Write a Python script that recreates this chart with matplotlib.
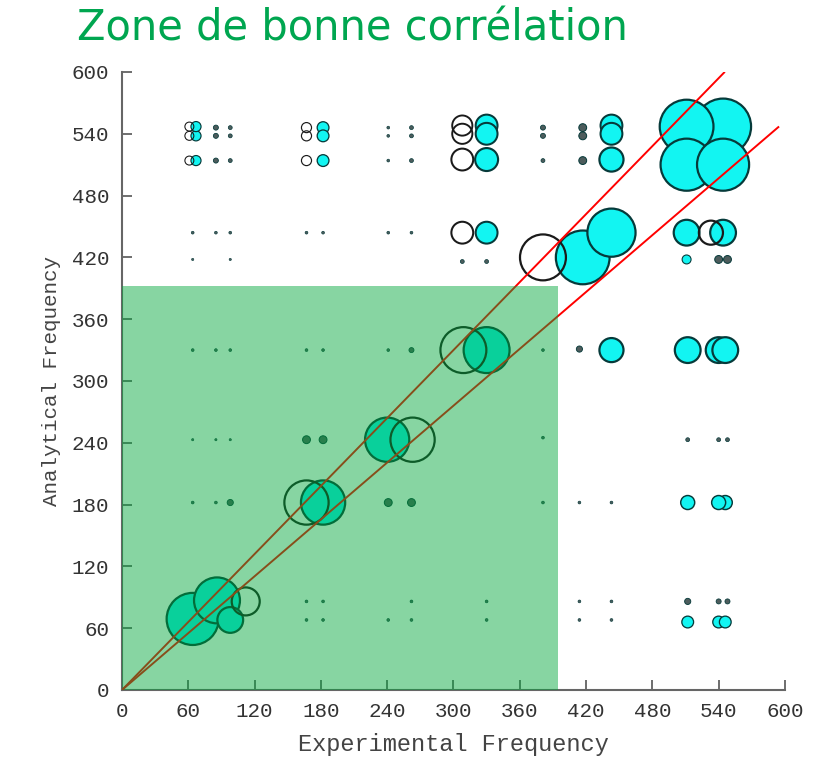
import matplotlib
matplotlib.use("Agg")
import matplotlib.pyplot as plt
from matplotlib.patches import Rectangle
import numpy as np

# Cross-correlation of experimental vs analytical modes (bubble diameter ~ MAC)
filled_exp = [67, 67, 67, 85, 85, 85, 98, 98, 98, 182, 182, 182, 241, 241, 241,
              262, 262, 262, 330, 330, 330, 381, 381, 381, 417, 417, 417,
              443, 443, 443, 511, 544, 511, 544,
              64, 85, 98, 167, 182, 241, 262, 330, 443, 511, 544,
              64, 98, 308, 330, 417, 511, 540, 548,
              64, 85, 98, 167, 182, 241, 262, 330, 381, 414, 443, 512, 540, 546,
              64, 85, 98, 167, 182, 240, 381, 512, 540, 548,
              64, 85, 98, 182, 241, 262, 381, 414, 443, 512, 540, 546,
              167, 182, 262, 330, 414, 443, 512, 540, 548, 86,
              167, 182, 241, 262, 330, 414, 443, 512, 540, 546, 64, 98]
filled_ana = [547, 538, 514, 546, 538, 514, 546, 538, 514, 546, 538, 514, 546, 538, 514,
              546, 538, 514, 548, 540, 515, 546, 538, 514, 546, 538, 514,
              548, 540, 515, 547, 547, 510, 510,
              444, 444, 444, 444, 444, 444, 444, 444, 444, 444, 444,
              418, 418, 416, 416, 420, 418, 418, 418,
              330, 330, 330, 330, 330, 330, 330, 330, 330, 331, 330, 330, 330, 330,
              243, 243, 243, 243, 243, 243, 245, 243, 243, 243,
              182, 182, 182, 182, 182, 182, 182, 182, 182, 182, 182, 182,
              86, 86, 86, 86, 86, 86, 86, 86, 86, 87,
              68, 68, 68, 68, 68, 68, 68, 66, 66, 66, 69, 68]
filled_mac = [.18, .18, .18, .09, .09, .09, .07, .07, .07, .21, .21, .21, .05, .05, .05,
              .07, .07, .07, .39, .39, .41, .09, .09, .07, .14, .14, .14,
              .39, .39, .43, .96, 1.0, .93, .93,
              .05, .05, .05, .05, .05, .05, .05, .39, .86, .46, .46,
              .04, .04, .07, .07, .96, .16, .14, .14,
              .05, .05, .05, .05, .05, .05, .09, .82, .05, .11, .43, .46, .46, .46,
              .04, .04, .04, .14, .14, .79, .05, .07, .07, .07,
              .05, .05, .11, .79, .14, .14, .05, .05, .05, .25, .25, .25,
              .05, .05, .05, .05, .05, .05, .11, .09, .09, .82,
              .05, .05, .05, .05, .05, .05, .05, .21, .21, .21, .93, .46]

hollow_exp = [61, 61, 61, 167, 167, 167, 308, 308, 308, 308, 533, 381, 309, 263, 167, 112]
hollow_ana = [547, 538, 514, 546, 538, 514, 548, 540, 515, 444, 444, 420, 330, 243, 182, 86]
hollow_mac = [.16, .16, .16, .18, .18, .18, .36, .36, .39, .39, .43, .82, .82, .79, .79, .50]

freq_ticks = [0, 60, 120, 180, 240, 300, 360, 420, 480, 540, 600]
upper_slope, upper_end = 1.10, 545
lower_slope, lower_end = 0.92, 594
zone_exp, zone_ana = 395, 392

MAX_RADIUS_PT = 28 * 0.72


def bubble_size(mac):
    d = 2 * MAX_RADIUS_PT * np.asarray(mac)
    return d ** 2


def edge_width(mac):
    return np.clip(0.3 + 3.0 * np.asarray(mac), 0.4, 1.6)


fig = plt.figure(figsize=(8.28, 7.61), dpi=100)
ax = fig.add_axes([0.1473, 0.0933, 0.8007, 0.8121])
ax.set_xlim(0, 600)
ax.set_ylim(0, 600)

order = np.argsort(filled_mac)[::-1]
fe = np.array(filled_exp)[order]
fa = np.array(filled_ana)[order]
fm = np.array(filled_mac)[order]
# very weak correlations render as small dark specks
faces = np.where(fm[:, None] >= 0.15,
                 np.array([[0.07, 0.96, 0.95, 1.0]]),
                 np.array([[0.30, 0.36, 0.36, 1.0]]))
ax.scatter(fe, fa, s=bubble_size(fm), facecolor=faces,
           edgecolor="#063A3A", linewidths=edge_width(fm), zorder=3)
ax.scatter(hollow_exp, hollow_ana, s=bubble_size(hollow_mac), facecolor="none",
           edgecolor="#1a1a1a", linewidths=edge_width(hollow_mac), zorder=4)

xu = np.array([0, upper_end])
xl = np.array([0, lower_end])
ax.plot(xu, upper_slope * xu, color="#FF0000", lw=1.4, zorder=5)
ax.plot(xl, lower_slope * xl, color="#FF0000", lw=1.4, zorder=5)

ax.add_patch(Rectangle((0, 0), zone_exp, zone_ana, facecolor="#00A73A",
                       edgecolor="none", alpha=0.47, zorder=10, clip_on=False))

for side in ("top", "right"):
    ax.spines[side].set_visible(False)
for side in ("left", "bottom"):
    ax.spines[side].set_color("#666666")
    ax.spines[side].set_linewidth(1.5)

mono = ["Liberation Mono", "DejaVu Sans Mono"]
ax.set_xticks(freq_ticks)
ax.set_yticks(freq_ticks)
ax.set_xticklabels([str(t) for t in freq_ticks], family=mono, fontsize=15, color="#333333")
ax.set_yticklabels([str(t) for t in freq_ticks], family=mono, fontsize=15, color="#333333")
ax.tick_params(direction="in", length=7, width=1.2, color="#555555")
ax.tick_params(axis="x", pad=9)
ax.tick_params(axis="y", pad=9)

ax.set_xlabel("Experimental Frequency", family=mono, fontsize=17, color="#444444", labelpad=8)
ax.set_ylabel("Analytical Frequency", family=mono, fontsize=15, color="#444444", labelpad=8)

fig.text(0.093, 0.947, "Zone de bonne corrélation", color="#00A650", fontsize=30,
         family=["Liberation Sans Narrow", "DejaVu Sans"], ha="left", va="baseline")

fig.savefig("out.png", dpi=100, facecolor="white")
